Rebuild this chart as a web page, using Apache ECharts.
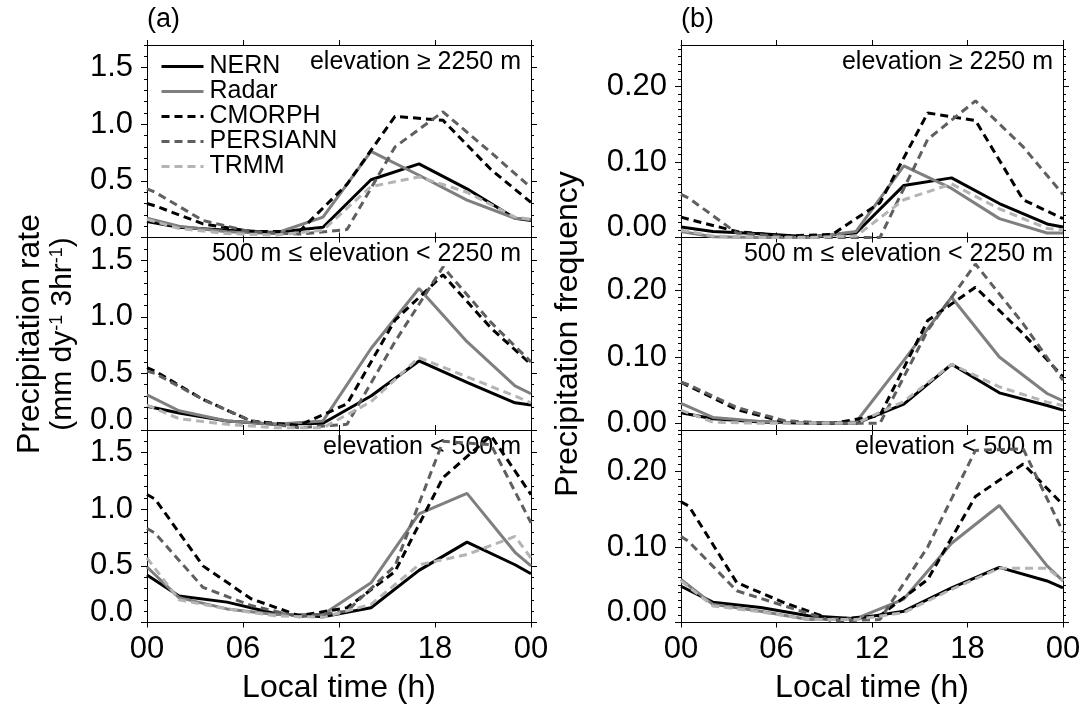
<!DOCTYPE html>
<html>
<head>
<meta charset="utf-8">
<script src="https://cdn.jsdelivr.net/npm/echarts@6/dist/echarts.min.js"></script>
<style>
  html, body { margin: 0; padding: 0; background: #fff; }
  #chart { width: 1087px; height: 711px; }
</style>
</head>
<body>
<div id="chart"></div>
<script>
// sample times (local time, h)
const HOURS_GAUGE = [0, 2, 5, 8, 11, 14, 17, 20, 23, 24];            // NERN, Radar, TRMM
const HOURS_SAT = [0, 0.5, 3.5, 6.5, 9.5, 12.5, 15.5, 18.5, 21.5, 24]; // CMORPH, PERSIANN

const HOUR_TICKS = [0, 6, 12, 18, 24];
const RATE_TICKS = [0, 0.5, 1.0, 1.5];
const FREQ_TICKS = [0, 0.1, 0.2];

const PRODUCTS = ['NERN', 'Radar', 'CMORPH', 'PERSIANN', 'TRMM'];
const ELEVATIONS = ['elevation \u2265 2250 m', '500 m \u2264 elevation < 2250 m', 'elevation < 500 m'];

// (a) precipitation rate, elevation >= 2250 m
const rateHighNERN     = [0.14, 0.09, 0.065, 0.045, 0.09, 0.51, 0.65, 0.43, 0.17, 0.15];
const rateHighRadar    = [0.17, 0.10, 0.05, 0.035, 0.18, 0.76, 0.55, 0.33, 0.17, 0.16];
const rateHighCMORPH   = [0.30, 0.28, 0.12, 0.055, 0.05, 0.47, 1.07, 1.035, 0.60, 0.31];
const rateHighPERSIANN = [0.43, 0.40, 0.15, 0.05, 0.03, 0.07, 0.80, 1.11, 0.75, 0.44];
const rateHighTRMM     = [0.16, 0.08, 0.035, 0.02, 0.065, 0.45, 0.535, 0.40, 0.18, 0.16];

// (a) 500 m <= elevation < 2250 m
const rateMidNERN     = [0.21, 0.15, 0.08, 0.05, 0.06, 0.30, 0.61, 0.42, 0.24, 0.22];
const rateMidRadar    = [0.31, 0.17, 0.08, 0.05, 0.08, 0.72, 1.25, 0.78, 0.39, 0.32];
const rateMidCMORPH   = [0.55, 0.52, 0.27, 0.08, 0.04, 0.23, 0.97, 1.37, 0.90, 0.58];
const rateMidPERSIANN = [0.52, 0.50, 0.27, 0.08, 0.02, 0.05, 0.78, 1.44, 0.95, 0.60];
const rateMidTRMM     = [0.22, 0.10, 0.05, 0.02, 0.02, 0.25, 0.64, 0.47, 0.30, 0.24];

// (a) elevation < 500 m
const rateLowNERN     = [0.42, 0.235, 0.18, 0.08, 0.05, 0.13, 0.46, 0.71, 0.51, 0.43];
const rateLowRadar    = [0.49, 0.22, 0.12, 0.07, 0.07, 0.35, 0.96, 1.14, 0.62, 0.50];
const rateLowCMORPH   = [1.13, 1.09, 0.50, 0.21, 0.06, 0.13, 0.45, 1.28, 1.65, 1.13];
const rateLowPERSIANN = [0.83, 0.79, 0.31, 0.15, 0.05, 0.10, 0.50, 1.60, 1.57, 0.88];
const rateLowTRMM     = [0.57, 0.20, 0.12, 0.06, 0.045, 0.16, 0.51, 0.60, 0.76, 0.57];

// (b) precipitation frequency, elevation >= 2250 m
const freqHighNERN     = [0.014, 0.008, 0.005, 0.001, 0.006, 0.069, 0.079, 0.045, 0.018, 0.014];
const freqHighRadar    = [0.008, 0.001, 0.0, 0.0, 0.008, 0.095, 0.065, 0.025, 0.006, 0.006];
const freqHighCMORPH   = [0.027, 0.024, 0.008, 0.002, 0.004, 0.046, 0.165, 0.155, 0.05, 0.025];
const freqHighPERSIANN = [0.057, 0.052, 0.006, 0.001, 0.0, 0.0, 0.13, 0.181, 0.12, 0.057];
const freqHighTRMM     = [0.01, 0.002, 0.0, 0.0, 0.002, 0.05, 0.071, 0.038, 0.012, 0.01];

// (b) 500 m <= elevation < 2250 m
const freqMidNERN     = [0.016, 0.007, 0.002, 0.0, 0.0, 0.029, 0.089, 0.046, 0.027, 0.02];
const freqMidRadar    = [0.03, 0.009, 0.003, 0.0, 0.002, 0.095, 0.19, 0.10, 0.045, 0.034];
const freqMidCMORPH   = [0.062, 0.056, 0.021, 0.002, 0.0, 0.012, 0.155, 0.205, 0.135, 0.07];
const freqMidPERSIANN = [0.062, 0.058, 0.024, 0.004, 0.0, 0.0, 0.14, 0.24, 0.15, 0.065];
const freqMidTRMM     = [0.02, 0.002, 0.0, 0.0, 0.0, 0.033, 0.089, 0.055, 0.032, 0.027];

// (b) elevation < 500 m
const freqLowNERN     = [0.048, 0.027, 0.02, 0.009, 0.005, 0.015, 0.046, 0.073, 0.055, 0.046];
const freqLowRadar    = [0.057, 0.024, 0.015, 0.004, 0.005, 0.031, 0.105, 0.155, 0.075, 0.055];
const freqLowCMORPH   = [0.16, 0.154, 0.053, 0.026, 0.004, 0.009, 0.057, 0.167, 0.21, 0.156];
const freqLowPERSIANN = [0.114, 0.107, 0.042, 0.022, 0.002, 0.004, 0.10, 0.228, 0.23, 0.12];
const freqLowTRMM     = [0.055, 0.022, 0.014, 0.004, 0.004, 0.013, 0.044, 0.072, 0.072, 0.055];

const FONT = '"Liberation Sans", Arial, Helvetica, sans-serif';

// line look per product
const STYLES = {
  NERN:     { color: '#000000', type: 'solid', hours: HOURS_GAUGE },
  Radar:    { color: '#7f7f7f', type: 'solid', hours: HOURS_GAUGE },
  CMORPH:   { color: '#000000', type: [8, 5], hours: HOURS_SAT },
  PERSIANN: { color: '#5f5f5f', type: [8, 5], hours: HOURS_SAT },
  TRMM:     { color: '#b4b4b4', type: [8, 5], hours: HOURS_GAUGE }
};

const panels = [
  { col: 0, row: 0, min: 0, max: 1.7, vals: [rateHighNERN, rateHighRadar, rateHighCMORPH, rateHighPERSIANN, rateHighTRMM] },
  { col: 0, row: 1, min: 0, max: 1.7, vals: [rateMidNERN, rateMidRadar, rateMidCMORPH, rateMidPERSIANN, rateMidTRMM] },
  { col: 0, row: 2, min: 0, max: 1.7, vals: [rateLowNERN, rateLowRadar, rateLowCMORPH, rateLowPERSIANN, rateLowTRMM] },
  { col: 1, row: 0, min: 0, max: 0.255, vals: [freqHighNERN, freqHighRadar, freqHighCMORPH, freqHighPERSIANN, freqHighTRMM] },
  { col: 1, row: 1, min: -0.01, max: 0.28, vals: [freqMidNERN, freqMidRadar, freqMidCMORPH, freqMidPERSIANN, freqMidTRMM] },
  { col: 1, row: 2, min: 0, max: 0.255, vals: [freqLowNERN, freqLowRadar, freqLowCMORPH, freqLowPERSIANN, freqLowTRMM] }
];

const GRID_LEFT = [147, 681];
const GRID_WIDTH = [384, 382];
const GRID_TOP = [45, 237.5, 430];
const GRID_H = 192.5;

function minorTicks(min, max, step) {
  const out = [];
  for (let k = Math.ceil(min / step - 1e-6); k * step <= max + 1e-9; k++) out.push(+(k * step).toFixed(4));
  return out;
}

const grids = [], xAxes = [], yAxes = [], series = [];
const axisLineStyle = { color: '#000', width: 1 };

panels.forEach((p, g) => {
  grids.push({ left: GRID_LEFT[p.col], top: GRID_TOP[p.row], width: GRID_WIDTH[p.col], height: GRID_H });
  const bottomRow = p.row === 2;
  const majors = p.col === 0 ? RATE_TICKS : FREQ_TICKS;
  const minors = minorTicks(p.min, p.max, p.col === 0 ? 0.1 : 0.01);
  const digits = p.col === 0 ? 1 : 2;

  ['bottom', 'top'].forEach(pos => {
    xAxes.push({
      type: 'value', gridIndex: g, position: pos, min: 0, max: 24,
      axisLine: { show: true, onZero: false, lineStyle: axisLineStyle },
      axisTick: { show: true, inside: false, length: 5, customValues: HOUR_TICKS, lineStyle: axisLineStyle },
      axisLabel: {
        show: pos === 'bottom' && bottomRow, customValues: HOUR_TICKS, margin: 11,
        formatter: v => String(Math.round(v) % 24).padStart(2, '0'),
        color: '#000', fontSize: 31, fontFamily: FONT
      },
      splitLine: { show: false },
      name: pos === 'bottom' && bottomRow ? 'Local time (h)' : '',
      nameLocation: 'middle', nameGap: 50,
      nameTextStyle: { color: '#000', fontSize: 32, fontFamily: FONT }
    });
  });

  ['left', 'right'].forEach(pos => {
    // major ticks (with labels on the left)
    yAxes.push({
      type: 'value', gridIndex: g, position: pos, min: p.min, max: p.max,
      axisLine: { show: true, onZero: false, lineStyle: axisLineStyle },
      axisTick: { show: true, inside: false, length: 6, customValues: majors, lineStyle: axisLineStyle },
      axisLabel: {
        show: pos === 'left', customValues: majors, margin: 14,
        color: '#000', fontSize: 31, fontFamily: FONT,
        formatter: v => {
          const t = v.toFixed(digits);
          return Math.abs(v - p.min) < 1e-9 ? '{z|' + t + '}' : t;
        },
        rich: { z: { color: '#000', fontSize: 31, fontFamily: FONT, padding: [0, 0, 20, 0] } }
      },
      splitLine: { show: false }
    });
    // minor ticks
    yAxes.push({
      type: 'value', gridIndex: g, position: pos, min: p.min, max: p.max,
      axisLine: { show: false, onZero: false },
      axisTick: { show: true, inside: false, length: 3, customValues: minors, lineStyle: axisLineStyle },
      axisLabel: { show: false },
      splitLine: { show: false }
    });
  });

  PRODUCTS.forEach((name, k) => {
    const st = STYLES[name];
    series.push({
      name: name, type: 'line', xAxisIndex: 2 * g, yAxisIndex: 4 * g,
      data: st.hours.map((h, i) => [h, p.vals[k][i]]),
      symbol: 'none', showSymbol: false, clip: true,
      lineStyle: { color: st.color, width: 3, type: st.type },
      itemStyle: { color: st.color }
    });
  });
});

const graphics = [];
const textEl = (text, x, y, size, align, extra) => Object.assign({
  type: 'text', x: x, y: y, silent: true,
  style: {
    text: text, fill: '#000', fontSize: size, fontFamily: FONT,
    align: align, verticalAlign: 'middle', textAlign: align, textVerticalAlign: 'middle'
  }
}, extra || {});

graphics.push(textEl('(a)', 147, 20, 27, 'left'));
graphics.push(textEl('(b)', 681, 20, 27, 'left'));
[0, 1].forEach(col => {
  const right = GRID_LEFT[col] + GRID_WIDTH[col] - 10;
  ELEVATIONS.forEach((t, row) => {
    graphics.push(textEl(t, right, GRID_TOP[row] + 17, 25, 'right'));
  });
});
graphics.push(textEl('Precipitation rate', 30, 334, 32, 'center', { rotation: Math.PI / 2 }));
graphics.push({
  type: 'text', x: 63, y: 334, rotation: Math.PI / 2, silent: true,
  style: {
    text: '{n|(mm dy}{s|-1}{n| 3hr}{s|-1}{n|)}',
    fill: '#000', fontSize: 30, fontFamily: FONT,
    align: 'center', verticalAlign: 'middle', textAlign: 'center', textVerticalAlign: 'middle',
    rich: {
      n: { fontSize: 30, fontFamily: FONT, fill: '#000', verticalAlign: 'bottom' },
      s: { fontSize: 18, fontFamily: FONT, fill: '#000', verticalAlign: 'top' }
    }
  }
});
graphics.push(textEl('Precipitation frequency', 568, 334, 32, 'center', { rotation: Math.PI / 2 }));

const chart = echarts.init(document.getElementById('chart'), null, { renderer: 'canvas' });
chart.setOption({
  backgroundColor: '#fff',
  animation: false,
  textStyle: { fontFamily: FONT },
  grid: grids,
  xAxis: xAxes,
  yAxis: yAxes,
  legend: {
    data: PRODUCTS, orient: 'vertical', left: 155, top: 49,
    itemWidth: 42, itemHeight: 12, itemGap: 0,
    itemStyle: { opacity: 0 },
    lineStyle: { width: 3 },
    textStyle: { color: '#000', fontSize: 25, lineHeight: 25, fontFamily: FONT, padding: [0, 0, 0, 1] }
  },
  graphic: graphics,
  series: series
});
</script>
</body>
</html>
